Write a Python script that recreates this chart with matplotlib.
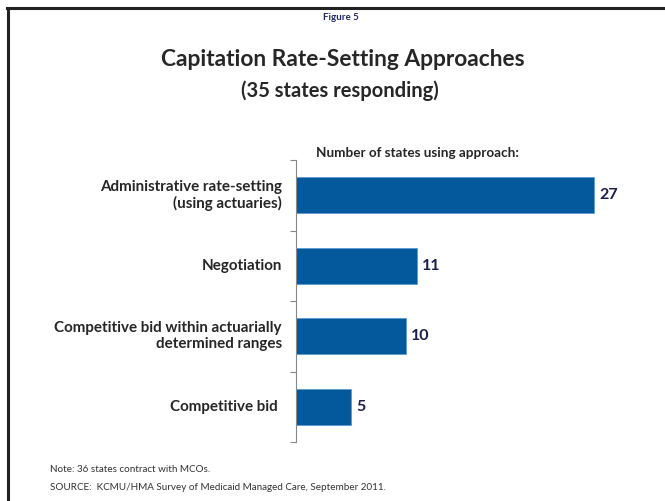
import matplotlib.pyplot as plt
from matplotlib.lines import Line2D

plt.rcParams['font.family'] = ['Lato', 'DejaVu Sans']

approaches = ["Administrative rate-setting\n(using actuaries)",
              "Negotiation",
              "Competitive bid within actuarially\ndetermined ranges",
              "Competitive bid "]
num_states = [27, 11, 10, 5]

bar_color = "#03599C"
text_dark = "#262626"
value_color = "#1B1F4B"

fig = plt.figure(figsize=(6.65, 5.01), dpi=100)

# frame lines (top and left only)
fig.add_artist(Line2D([7 / 665, 663 / 665], [1 - 7.5 / 501, 1 - 7.5 / 501],
                      color="#222222", lw=2.2, transform=fig.transFigure))
fig.add_artist(Line2D([7.5 / 665, 7.5 / 665], [0, 1 - 7.5 / 501],
                      color="#222222", lw=2.2, transform=fig.transFigure))

fig.text(341 / 665, 1 - 18 / 501, "Figure 5", ha="center", va="center",
         fontsize=7, fontweight="bold", color="#1F2A6B")
fig.text(343 / 665, 1 - 60 / 501, "Capitation Rate-Setting Approaches",
         ha="center", va="center", fontsize=16.4, fontweight="bold", color=text_dark)
fig.text(340 / 665, 1 - 91 / 501, "(35 states responding)",
         ha="center", va="center", fontsize=14.5, fontweight="bold", color=text_dark)

ax = fig.add_axes([296 / 665, 1 - 442 / 501, (594 - 296) / 665 * 30 / 27, 282 / 501])
y = list(range(len(approaches)))
bars = ax.barh(y, num_states, height=0.51, color=bar_color,
               edgecolor="#5A9BD5", linewidth=0.6)
ax.set_ylim(3.5, -0.5)
ax.set_xlim(0, 30)
ax.set_yticks([-0.5, 0.5, 1.5, 2.5, 3.5])
ax.set_yticklabels([])
ax.tick_params(axis="y", length=4, width=0.8, color="#888888", direction="out")
for i, lab in enumerate(approaches):
    ax.text(-1.3, i, lab, ha="right", va="center", fontsize=10.9, fontweight="bold",
            color=text_dark, linespacing=1.15)
for i, v in enumerate(num_states):
    ax.text(v + 0.45, i, str(v), ha="left", va="center", fontsize=11.5,
            fontweight="bold", color=value_color)
ax.set_xticks([])
for s in ["top", "right", "bottom"]:
    ax.spines[s].set_visible(False)
ax.spines["left"].set_color("#888888")
ax.spines["left"].set_linewidth(0.8)

ax.text(1.8, -0.6, "Number of states using approach:", ha="left",
        va="center", fontsize=9.7, fontweight="bold", color=text_dark)

fig.text(50 / 665, 1 - 470 / 501, "Note: 36 states contract with MCOs.",
         ha="left", va="center", fontsize=7.1, color="#333333")
fig.text(50 / 665, 1 - 487 / 501,
         "SOURCE:  KCMU/HMA Survey of Medicaid Managed Care, September 2011.",
         ha="left", va="center", fontsize=7.1, color="#333333")

fig.savefig("out.png", dpi=100, facecolor="white")
